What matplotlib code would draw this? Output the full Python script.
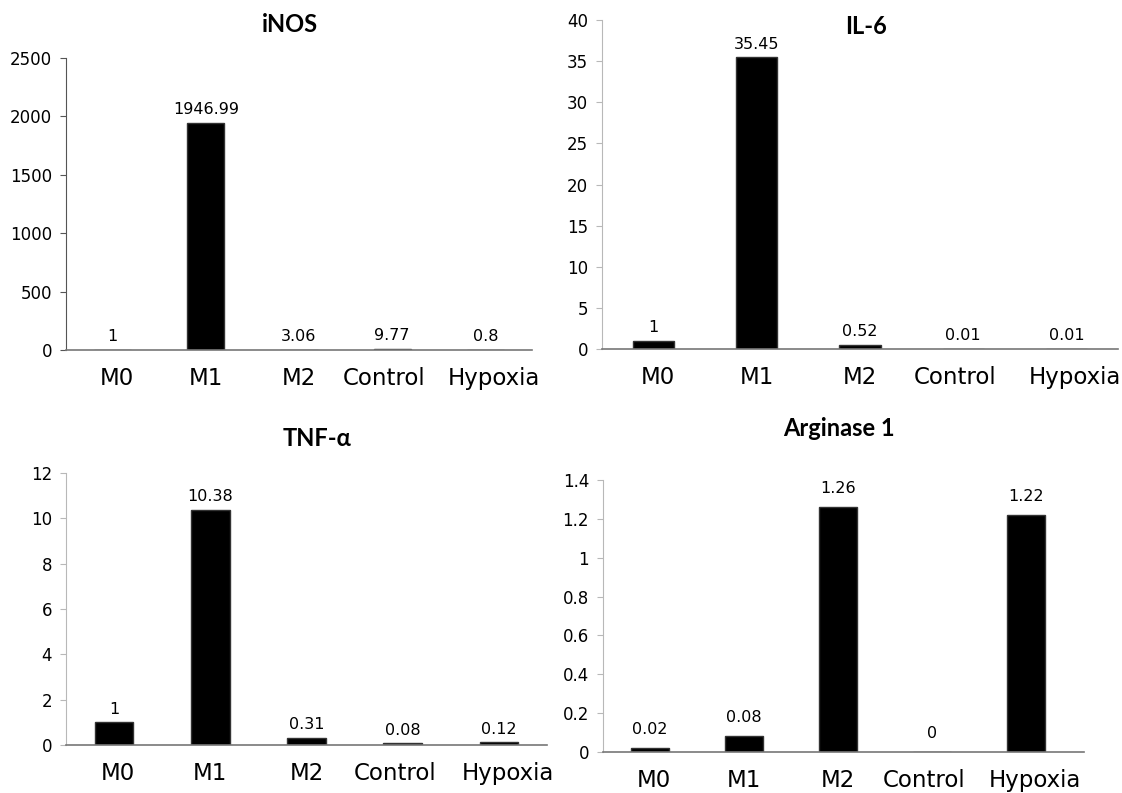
import matplotlib
matplotlib.use("Agg")
import matplotlib.pyplot as plt
from matplotlib.transforms import ScaledTranslation

# data
categories = ["M0", "M1", "M2", "Control", "Hypoxia"]
inos_vals = [1, 1946.99, 3.06, 9.77, 0.8]
il6_vals = [1, 35.45, 0.52, 0.01, 0.01]
tnf_vals = [1, 10.38, 0.31, 0.08, 0.12]
arg1_vals = [0.02, 0.08, 1.26, 0, 1.22]

inos_ticks = [0, 500, 1000, 1500, 2000, 2500]
il6_ticks = [0, 5, 10, 15, 20, 25, 30, 35, 40]
tnf_ticks = [0, 2, 4, 6, 8, 10, 12]
arg1_ticks = [0, 0.2, 0.4, 0.6, 0.8, 1, 1.2, 1.4]
arg1_tick_labels = ["0", "0.2", "0.4", "0.6", "0.8", "1", "1.2", "1.4"]

W, H = 1122, 793
plt.rcParams["font.family"] = ["DejaVu Sans"]
fig = plt.figure(figsize=(W / 100, H / 100), dpi=100)


def px_rect(left, right, top, bottom):
    return [left / W, (H - bottom) / H, (right - left) / W, (bottom - top) / H]


def draw_panel(rect, values, ticks, ylim, xmax=4.5, yaxis_color="#b8b8b8",
               tick_labels=None, label_offset=4):
    ax = fig.add_axes(rect)
    x = range(len(values))
    bars = ax.bar(x, values, width=0.4, color="black", edgecolor="#333333")
    for b, v in zip(bars, values):
        ax.annotate(f"{v:g}", (b.get_x() + b.get_width() / 2, v),
                    xytext=(0, label_offset), textcoords="offset points",
                    ha="center", va="bottom", fontsize=11.5)
    ax.set_xlim(-0.5, xmax)
    ax.set_ylim(*ylim)
    ax.set_yticks(ticks)
    if tick_labels:
        ax.set_yticklabels(tick_labels)
    ax.set_xticks(list(x))
    ax.set_xticklabels(categories, fontsize=16.5)
    ax.tick_params(axis="x", length=0, pad=12)
    ax.tick_params(axis="y", length=4, width=0.8, color=yaxis_color,
                   labelsize=12, pad=6)
    # spread the last two category labels a little, like the original
    shifts = [0.04, 0, 0, -0.08, 0.09]
    for lbl, dx in zip(ax.get_xticklabels(), shifts):
        lbl.set_transform(lbl.get_transform() +
                          ScaledTranslation(dx, 0, fig.dpi_scale_trans))
    for s in ["top", "right"]:
        ax.spines[s].set_visible(False)
    ax.spines["left"].set_color(yaxis_color)
    ax.spines["bottom"].set_color("#777777")
    ax.spines["bottom"].set_linewidth(1.2)
    return ax


draw_panel(px_rect(66, 532, 58, 350), inos_vals, inos_ticks, (0, 2500),
           yaxis_color="#555555")
draw_panel(px_rect(602, 1118, 20, 349), il6_vals, il6_ticks, (0, 40))
draw_panel(px_rect(66, 547, 473, 745), tnf_vals, tnf_ticks, (0, 12))
draw_panel(px_rect(603, 1084, 480, 752), arg1_vals, arg1_ticks, (0, 1.4),
           xmax=4.62, tick_labels=arg1_tick_labels, label_offset=8)

# panel titles
title_font = dict(fontsize=17, fontweight="bold", family=["Lato", "DejaVu Sans"],
                  ha="center", va="center")
fig.text(290 / W, 1 - 25 / H, "iNOS", **title_font)
fig.text(866 / W, 1 - 27 / H, "IL-6", **title_font)
fig.text(317 / W, 1 - 439 / H, "TNF-α", **title_font)
fig.text(839 / W, 1 - 428 / H, "Arginase 1", **title_font)

fig.savefig("out.png", dpi=100, facecolor="white")
